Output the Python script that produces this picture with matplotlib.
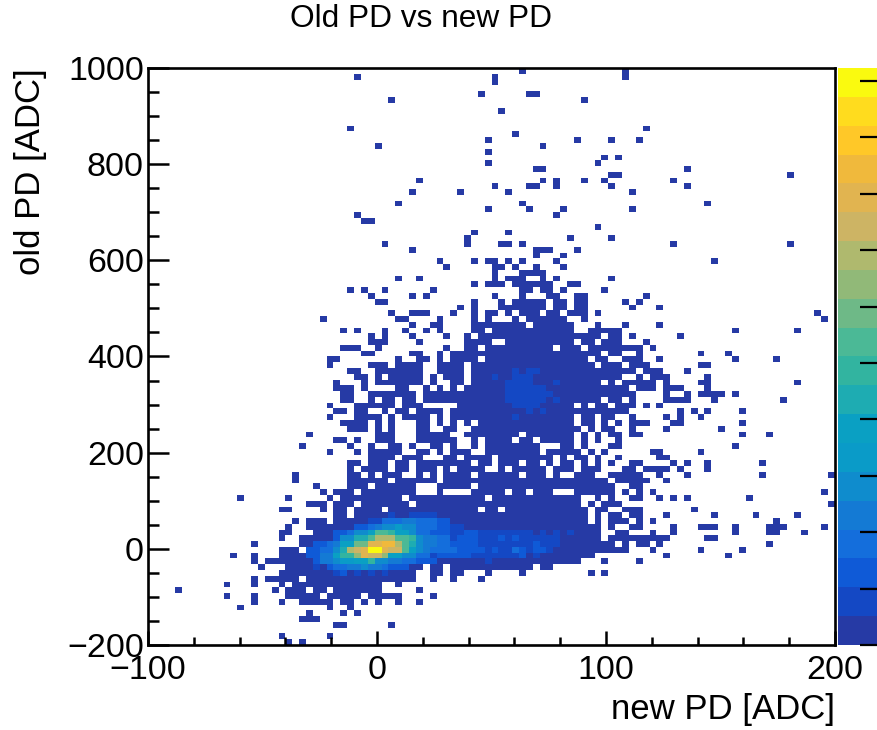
import numpy as np
import matplotlib
matplotlib.use("Agg")
import matplotlib.pyplot as plt
from matplotlib.colors import ListedColormap, BoundaryNorm
from matplotlib.ticker import MultipleLocator

plt.rcParams["font.family"] = ["Liberation Sans", "DejaVu Sans"]

# occupied bins of the 100x100 histogram, row 0 is the top row of the plot
upper_rows = [
    (0, "54 69"), (1, "30 50 69"), (2, "50"), (4, "48 55-56"), (5, "35 63"), (7, "51"),
    (10, "29 72"), (11, "53"), (12, "49 62 67 71"), (13, "33 57"), (14, "49"),
    (15, "66 68"), (16, "49 65"), (17, "56-57 78"), (18, "67-68 93"),
    (19, "39 57 59 63 66 76"), (20, "50 55-56 59 67 78"), (21, "38 45 52 70"),
    (23, "36 54 81"), (24, "49 55 60 70"), (25, "30 59"), (26, "31-32"), (27, "65"),
    (28, "47 52"), (29, "46 61 67"), (30, "34 46 51-52 54 76 93"), (31, "38 56-58 62"),
    (32, "56 60"), (33, "42 47 49-50 52 54 59 82"), (34, "43 50-51 53 56 60"),
    (35, "50 54-57"), (36, "36 39 50 52-54 57 59 67"),
    (37, "47 49-51 53-58 61-62"), (38, "29 31 34 41 54-55 57-58 60 66"),
    (39, "32 38 40 50 54 58-59 62-63 72"), (40, "33-34 47 51 53-57 59-60 62-63 69 71"),
]
middle_rows = [
    (41, "45 47 51-57 59-60 62-63 70 74"),
    (42, "35 38-40 44 47 49-50 52 54-56 58-59 61-63 65 97"),
    (43, "25 36-37 42 47 49 53 55-60 63 98"),
    (44, "38 41-42 47-54 56-61 65 69 74"),
    (45, "28 30 34 37 40 42 47-48 50-61 64-68 85 94"),
    (46, "32 34 38 43 46 48-65 67-68 70 77"),
    (47, "32-34 39 46-49 52-61 63-64 66-68 72"),
    (48, "28-30 33 43 46-47 49-58 60-62 64-71 73"),
    (49, "31-32 38-39 42 44-65 67-68 71 80 84"),
    (50, "26-27 36 39-40 42 44-47 49-63 65-66 69-71 74 85 91"),
    (51, "26 32-34 36-39 42-45 47-64 66-68 70-72 80-81"),
    (52, "29-30 33-39 42-45 47-70 72-74 78"),
    (53, "30-31 33 35-39 41 43-45 47-68 71 73-75 81"),
    (54, "27 31 33-39 41 44-45 47-65 67 69-73 75 80-81 94"),
    (55, "27-29 31 36-37 40 42 44 46-69 71-73 75-77 81"),
    (56, "28-29 32-38 40-70 75 78 80-83 85"),
    (57, "28-29 32 34-35 37-38 40-65 67-68 70 75-78 82 92"),
    (58, "26 30-35 37-39 45-61 63 65-66 68-70 72 74"),
    (59, "27-28 30-31 34 36-37 39-42 44-69 77 79 81 86"),
    (60, "26 30-33 35 37-40 42 44-61 63-64 66-67 70 75 77 80"),
    (61, "28-31 33 35 39-40 42 44 46 48-61 63-64 66 68 70-72 76-77 86"),
    (62, "29-31 33 35 39-40 43-44 47-62 64 66-67 70 75 83"),
    (63, "23 33-35 39-43 46-53 55-61 63 65 67-68 70-71 86 90"),
    (64, "27-28 30 33-35 39-44 47 49-52 54-55 57-61 63 65 68"),
    (65, "22 29 32 35-36 38 41-42 44 47 49-56 60-61 63 67-68 85"),
    (66, "26 30 32-36 39-40 42 44-46 49-56 58-62 64 66 73-74 80"),
    (67, "32-35 37-39 43-44 46-49 51-58 60 62-63 65 68 74-75"),
    (68, "29-30 32-34 36-37 39-46 48-49 51-53 55-56 58 60-61 63 65 67 70-71 76 78 81 89"),
    (69, "29 31-34 36-37 39-41 43 45-48 51 53-57 59-61 63-65 69-70 72-75 77 81"),
    (70, "21 29-30 32 34-36 39 41 43-46 48-53 55-57 59 62-64 67-71 74 78 89 99"),
    (71, "21 29-34 36-41 43-66 68-72 75"),
    (72, "24 29-31 33-38 42-46 48-67 70-71"),
    (73, "25 27-29 31-38 42 47-51 53-54 56-58 62-67 69 71 73 98"),
]
lower_rows = [
    (74, "13 20 26 28-36 38-48 50-62 65 67 70-71 74 76 78 87"),
    (75, "23-25 27-29 31-37 39-62 64 66-68 99"),
    (76, "19-20 25 27-28 30-33 35-47 49-50 52-63 65-66 69-71 79"),
    (77, "27-28 30-63 65 67-68 70-71 75 82 88 94"),
    (78, "21 23-25 27-63 65 67-69 71 73 91"),
    (79, "20 23-65 67 70-71 76 80-82 85 90-92 98"),
    (80, "19-20 24-65 68-69 73 76 85 90-91 95"),
    (81, "19 22-65 67-75 81-82"),
    (82, "15 22-67 69 71-72 74 90"),
    (83, "19-21 23-69 73 80 86"),
    (84, "12 15 19-64 75 84"),
    (85, "15 17-62 66 71"),
    (86, "16 20-39 41-42 44-55 57-58"),
    (87, "19-38 41-42 44-45 49 54 64 66"),
    (88, "15 17-21 23-38 41 44 48"),
    (89, "11 15 19 21-33 36"),
    (90, "4 18 20-22 24-25 27-33 39"),
    (91, "11 15 20-24 26-30 32-36 41"),
    (92, "15 19 22-26 28-29 31 33 36 39"),
    (93, "13 26 29"),
    (94, "23 28 30"),
    (95, "22-24"),
    (96, "27-28 35"),
    (98, "19 26"),
    (99, "20 22"),
]

# palette band read per bin in the dense spots: row, first bin, bands
blob_bands = [
    (52, 53, [1, 0, 1, 1]), (53, 50, [1, 0, 0, 1, 1, 1]), (54, 52, [1, 1, 1, 1, 0, 0, 0, 1]),
    (55, 52, [1, 1, 1, 1, 1, 1]), (56, 52, [1, 1, 1, 1, 1, 1, 1]),
    (57, 52, [1, 1, 1, 1, 1, 1, 0, 1]), (58, 53, [1, 1, 1, 1]),
    (59, 55, [1, 0, 1]), (60, 53, [1]),
]
core_bands = [
    (77, 35, [1, 0, 0, 1, 1, 1, 1]),
    (78, 32, [1, 1, 3, 3, 3, 4, 4, 3, 3, 3, 2, 2]),
    (79, 30, [2, 2, 3, 4, 5, 5, 6, 5, 5, 3, 3, 3, 2, 2, 1, 1]),
    (80, 27, [2, 2, 3, 5, 5, 7, 10, 10, 9, 7, 7, 5, 3, 3, 2, 2, 2, 1, 1, 2, 2,
              1, 1, 1, 1, 1, 1, 1, 1, 0, 1, 0, 1, 0, 1]),
    (81, 27, [2, 5, 5, 8, 8, 10, 13, 13, 13, 10, 10, 9, 5, 4, 4, 3, 3, 1, 2, 2, 2,
              1, 1, 1, 2, 1, 2, 1, 1, 1, 1, 1, 1]),
    (82, 24, [2, 2, 3, 4, 7, 7, 11, 11, 15, 15, 16, 16, 13, 10, 8, 5, 4, 4, 3, 3, 2, 2, 2, 2,
              1, 1, 1, 1, 1, 1, 1, 1, 2, 1, 1, 1]),
    (83, 23, [2, 2, 3, 3, 5, 8, 13, 14, 15, 19, 19, 15, 14, 14, 10, 7, 5, 4, 3, 3, 3, 3, 2, 2, 2,
              2, 1, 2, 1, 1, 3, 2, 1, 2, 2, 1]),
    (84, 23, [2, 2, 4, 4, 7, 9, 9, 12, 15, 14, 14, 12, 7, 7, 5, 5, 3, 3, 1, 2, 2, 2, 2, 2,
              1, 1, 1, 1, 1, 1, 1, 2, 0, 1]),
    (85, 24, [2, 4, 4, 5, 6, 6, 7, 7, 9, 5, 5, 4, 4, 3, 3, 2, 2, 2, 0, 0, 0, 0, 0, 0, 0, 1]),
    (86, 24, [1, 0, 2, 3, 3, 4, 4, 5, 4, 4, 3, 2, 2, 2]),
    (87, 27, [1, 2, 0, 1, 0, 1, 0, 1]),
]

palette = [
    "#263aa5", "#1448c4", "#0f5ad7", "#146edc", "#147ad4", "#0f8ccd", "#0a9bc8", "#0aa0c3",
    "#1eacb2", "#32b4a0", "#4bb996", "#6eb987", "#91b978", "#afb96e", "#cdb464", "#e1b450",
    "#f0b93c", "#ffc828", "#ffdc1e", "#fafa0f",
]
count_max = 102.3
colorbar_ticks = [0, 10, 20, 30, 40, 50, 60, 70, 80, 90, 100]


def parse_bins(text):
    bins = []
    for part in text.split():
        if "-" in part:
            start, stop = part.split("-")
            bins.extend(range(int(start), int(stop) + 1))
        else:
            bins.append(int(part))
    return bins


def main():
    band = count_max / len(palette)
    counts = np.zeros((100, 100))
    for row, text in upper_rows + middle_rows + lower_rows:
        counts[99 - row, parse_bins(text)] = 2
    for row, first, bands in blob_bands + core_bands:
        for k, value in enumerate(bands):
            if value > 0:
                counts[99 - row, first + k] = (value + 0.5) * band

    x_edges = np.linspace(-100, 200, 101)
    y_edges = np.linspace(-200, 1000, 101)
    levels = np.linspace(0, count_max, len(palette) + 1)
    cmap = ListedColormap(palette)
    norm = BoundaryNorm(levels, cmap.N)

    fig = plt.figure(figsize=(8.77, 7.30), dpi=100)
    ax = fig.add_axes([148 / 877, 85 / 730, 687 / 877, 577 / 730])
    mesh = ax.pcolormesh(x_edges, y_edges, np.ma.masked_equal(counts, 0), cmap=cmap, norm=norm)

    ax.set_xlim(-100, 200)
    ax.set_ylim(-200, 1000)
    ax.xaxis.set_major_locator(MultipleLocator(100))
    ax.xaxis.set_minor_locator(MultipleLocator(20))
    ax.yaxis.set_major_locator(MultipleLocator(200))
    ax.yaxis.set_minor_locator(MultipleLocator(50))
    ax.tick_params(axis="x", which="major", direction="in", length=10, width=1.8,
                   labelsize=24.5, pad=7)
    ax.tick_params(axis="x", which="minor", direction="in", length=5.5, width=1.8)
    ax.tick_params(axis="y", which="major", direction="in", length=15, width=1.8,
                   labelsize=24.5, pad=3)
    ax.tick_params(axis="y", which="minor", direction="in", length=8, width=1.8)
    for spine in ax.spines.values():
        spine.set_linewidth(1.9)

    fig.text(421 / 877, 1 - 19 / 730, "Old PD vs new PD", ha="center", va="center", fontsize=22.8)
    fig.text(835 / 877, 1 - 710 / 730, "new PD [ADC]", ha="right", va="center", fontsize=25)
    fig.text(31 / 877, 1 - 68 / 730, "old PD [ADC]", ha="center", va="top",
             rotation=90, fontsize=25)

    cax = fig.add_axes([838 / 877, 85 / 730, 40 / 877, 577 / 730])
    cbar = fig.colorbar(mesh, cax=cax, ticks=colorbar_ticks, spacing="proportional", drawedges=False)
    cbar.outline.set_visible(False)
    cbar.ax.minorticks_off()
    cbar.ax.tick_params(direction="in", length=13, width=1.6, labelright=False)

    fig.savefig("out.png", dpi=100)


if __name__ == "__main__":
    main()
